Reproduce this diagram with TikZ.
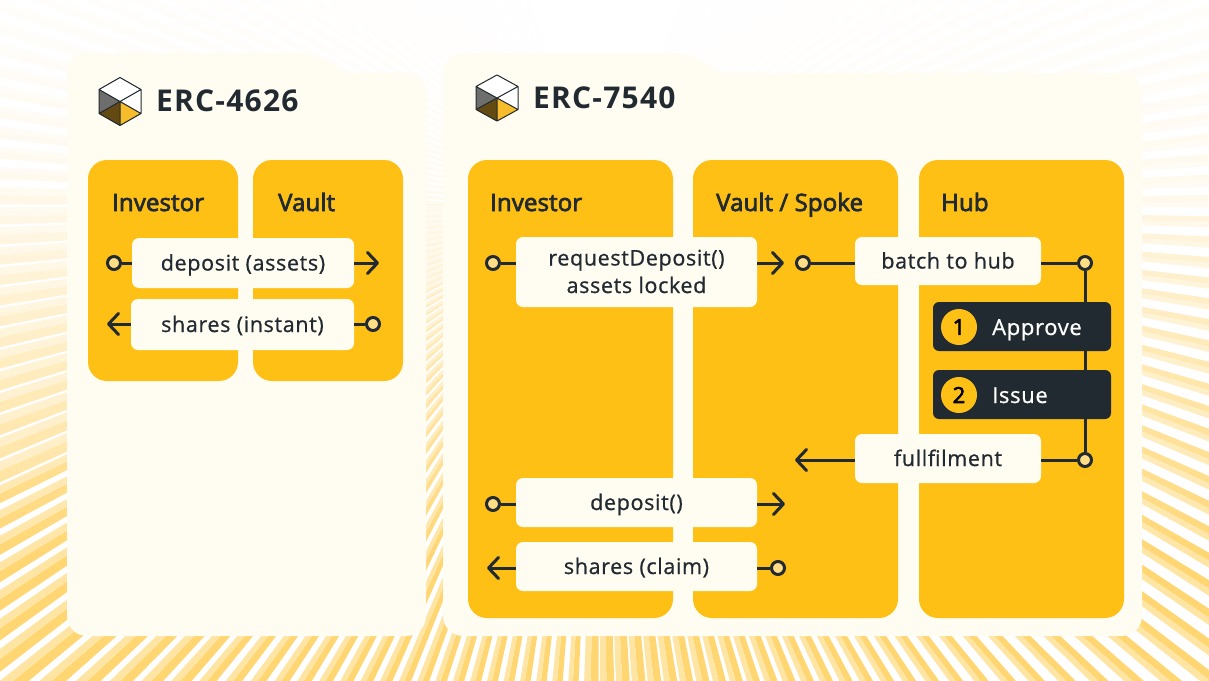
\documentclass[tikz,border=0pt]{standalone}
\usepackage{fontspec}
\setmainfont{Open Sans}
\newfontfamily\msgfont[LetterSpace=3, FakeBold=0.8]{Open Sans}
\newfontfamily\headfont[LetterSpace=0.5, FakeBold=3]{Open Sans}
\newfontfamily\titlefont[LetterSpace=4]{Open Sans Bold}
\usetikzlibrary{arrows.meta, positioning}
\definecolor{inkdark}{HTML}{222A31}
\definecolor{amber}{HTML}{FFC016}
\definecolor{cardbg}{HTML}{FFFCF2}
\definecolor{portfill}{HTML}{FFDD85}
\definecolor{raystrong}{HTML}{FFD671}
\definecolor{raylight}{HTML}{FFE5A3}
\definecolor{logogrey}{HTML}{6E6E6C}
\definecolor{logobrown}{HTML}{624A12}
\definecolor{logoyellow}{HTML}{F6BC2A}
\tikzset{
	panel/.style={fill=amber, rounded corners=19pt, inner sep=0pt},
	msgbox/.style={fill=cardbg, rounded corners=7pt, inner sep=0pt, text=inkdark, align=center, text height=15pt, text depth=0pt, font=\fontsize{21.5}{27.5}\msgfont},
	darkbox/.style={fill=inkdark, rounded corners=6pt, inner sep=0pt, minimum width=178pt, minimum height=49pt},
	badge/.style={circle, fill=amber, inner sep=0pt, minimum size=36pt, text=black, font=\fontsize{22}{25}\headfont},
	port/.style={circle, draw=inkdark, line width=3pt, fill=portfill, inner sep=0pt, minimum size=13pt},
	wire/.style={draw=inkdark, line width=3pt},
	steplabel/.style={anchor=base west, inner sep=0pt, text=white, font=\fontsize{22}{25}\msgfont},
	heading/.style={anchor=base west, inner sep=0pt, text=inkdark, font=\fontsize{24}{30}\headfont},
	cardtitle/.style={anchor=base west, inner sep=0pt, text=inkdark, font=\fontsize{30}{34}\titlefont},
	logo/.pic={
		\fill[white] (0,-24) -- (21,-12) -- (21,12) -- (0,0) -- (-21,-12) -- cycle;
		\fill[logogrey] (-21,-12) -- (0,0) -- (-21,12) -- cycle;
		\fill[logobrown] (-21,12) -- (0,0) -- (0,24) -- cycle;
		\fill[logoyellow] (0,0) -- (21,12) -- (0,24) -- cycle;
		\draw[inkdark, line width=1pt, line join=round] (0,-24) -- (21,-12) -- (21,12) -- (0,24) -- (-21,12) -- (-21,-12) -- cycle
			(-21,-12) -- (0,0) -- (21,-12) (-21,12) -- (0,0) -- (21,12) (0,0) -- (0,24);
	}
}
\begin{document}
\begin{tikzpicture}[x=1pt, y=-1pt, >={Straight Barb[length=10pt, width=21pt, line cap=round, line join=round]}]
	\useasboundingbox (0,0) rectangle (1209,680);
	% rays behind the cards
	\begin{scope}
		\clip (0,0) rectangle (1209,680);
		\fill[white] (0,0) rectangle (1209,680);
		\begin{scope}[shift={(600,207)}]
			\foreach \i in {0,...,187} {
				\pgfmathsetmacro\a{\i*1.91489}
				\pgfmathsetmacro\gapfrac{\a<50?0.45:(\a<90?0.45-(\a-50)*0.009:(\a<130?0.35:(\a<155?0.28:(\a<180?0.13:0.4))))}
				\pgfmathsetmacro\op{\a<155?1:(\a<180?0.8:(\a<250?max(0,0.7-(\a-180)/100):(\a<290?0:(\a-290)/100)))}
				\pgfmathsetmacro\b{\a+\gapfrac*1.91489}
				\pgfmathsetmacro\c{\b+0.55*(1-\gapfrac)*1.91489}
				\pgfmathsetmacro\d{\a+1.91489}
				\fill[raystrong, opacity=\op] (0,0) -- (\b:1500) -- (\c:1500) -- cycle;
				\fill[raylight, opacity=\op] (0,0) -- (\c:1500) -- (\d:1500) -- cycle;
			}
		\end{scope}
		% the rays fade upwards
		\foreach \s in {0,...,84} {
			\pgfmathsetmacro\ya{\s*8}
			\pgfmathsetmacro\yb{\ya+8}
			\pgfmathsetmacro\veil{\ya<210?0.8+(210-\ya)/1400:max(0,(560-\ya)/440)}
			\fill[white, opacity=\veil] (0,\ya) rectangle (1209,\yb);
		}
	\end{scope}

	% folder cards
	\fill[cardbg, rounded corners=20pt] (67,636) -- (67,53) -- (317,53) [rounded corners=8pt] -- (345,73) [rounded corners=20pt] -- (426,73) -- (426,636) -- cycle;
	\fill[cardbg, rounded corners=20pt] (443,636) -- (443,53) -- (692,53) [rounded corners=8pt] -- (720,73) [rounded corners=20pt] -- (1142,73) -- (1142,636) -- cycle;

	\pic[scale=1] at (120,101.5) {logo};
	\pic[yscale=0.96] at (497,98) {logo};
	\node[cardtitle] (erca) at (156,111) {ERC-4626};
	\node[cardtitle] (ercb) at (533,108.5) {ERC-7540};

	% columns
	\node[panel, minimum width=150pt, minimum height=221pt] (cinva) at (163,270.5) {};
	\node[panel, minimum width=150pt, minimum height=221pt] (cvaulta) at (328,270.5) {};
	\node[panel, minimum width=205pt, minimum height=458pt] (cinvb) at (570.5,389) {};
	\node[panel, minimum width=205pt, minimum height=458pt] (cvaultb) at (795.5,389) {};
	\node[panel, minimum width=205pt, minimum height=458pt] (chub) at (1021.5,389) {};

	\node[heading] (tinva) at (112,211) {Investor};
	\node[heading] (tvaulta) at (278,211) {Vault};
	\node[heading] (tinvb) at (490,211) {Investor};
	\node[heading] (tvaultb) at (716,211) {Vault / Spoke};
	\node[heading] (thub) at (941,211) {Hub};

	% ports and free ends
	\node[port] (pdepa) at (114,263) {};
	\node[port] (pshaa) at (373,324) {};
	\node[port] (preq) at (493,263) {};
	\node[port] (pbat) at (803,263) {};
	\node[port] (phuba) at (1085,263) {};
	\node[port] (phubb) at (1085,460) {};
	\node[port] (pdepb) at (493,504) {};
	\node[port] (pshab) at (778,568) {};
	\coordinate (edepa) at (379,263);
	\coordinate (eshaa) at (107,324);
	\coordinate (ereq) at (784,263);
	\coordinate (eful) at (795,460);
	\coordinate (edepb) at (785,504);
	\coordinate (eshab) at (487,568);

	\draw[wire] (phuba) -- (phubb);

	% message boxes
	\draw (243,263) node[msgbox, minimum width=222pt, minimum height=50pt] (mdepa) {deposit (assets)}
		(242.5,324.5) node[msgbox, minimum width=223pt, minimum height=51pt] (mshaa) {shares (instant)}
		(636.5,272) node[msgbox, text height=42pt, minimum width=241pt, minimum height=70pt] (mreq) {requestDeposit()\\assets locked}
		(948,261) node[msgbox, minimum width=186pt, minimum height=48pt] (mbat) {batch to hub}
		(948,458.5) node[msgbox, minimum width=186pt, minimum height=49pt] (mful) {fullfilment}
		(636.5,502.5) node[msgbox, minimum width=241pt, minimum height=49pt] (mdepb) {deposit()}
		(636.5,566.5) node[msgbox, minimum width=241pt, minimum height=49pt] (mshab) {shares (claim)};

	\node[darkbox] (sappr) at (1022,326.5) {};
	\node[darkbox] (sissu) at (1022,394.5) {};
	\node[badge] (nappr) at (959,327) {1};
	\node[badge] (nissu) at (959,395) {2};
	\node[steplabel] (lappr) at (992,335) {Approve};
	\node[steplabel] (lissu) at (992,403) {Issue};

	\draw[wire] (pdepa) -- (pdepa -| mdepa.west);
	\draw[wire] (pshaa) -- (pshaa -| mshaa.east);
	\draw[wire] (preq) -- (preq -| mreq.west);
	\draw[wire] (pbat) -- (pbat -| mbat.west);
	\draw[wire] (phuba) -- (phuba -| mbat.east);
	\draw[wire] (phubb) -- (phubb -| mful.east);
	\draw[wire] (pdepb) -- (pdepb -| mdepb.west);
	\draw[wire] (pshab) -- (pshab -| mshab.east);
	\draw[wire, ->] (edepa -| mdepa.east) -- (edepa);
	\draw[wire, ->] (eshaa -| mshaa.west) -- (eshaa);
	\draw[wire, ->] (ereq -| mreq.east) -- (ereq);
	\draw[wire, ->] (eful -| mful.west) -- (eful);
	\draw[wire, ->] (edepb -| mdepb.east) -- (edepb);
	\draw[wire, ->] (eshab -| mshab.west) -- (eshab);
\end{tikzpicture}
\end{document}
